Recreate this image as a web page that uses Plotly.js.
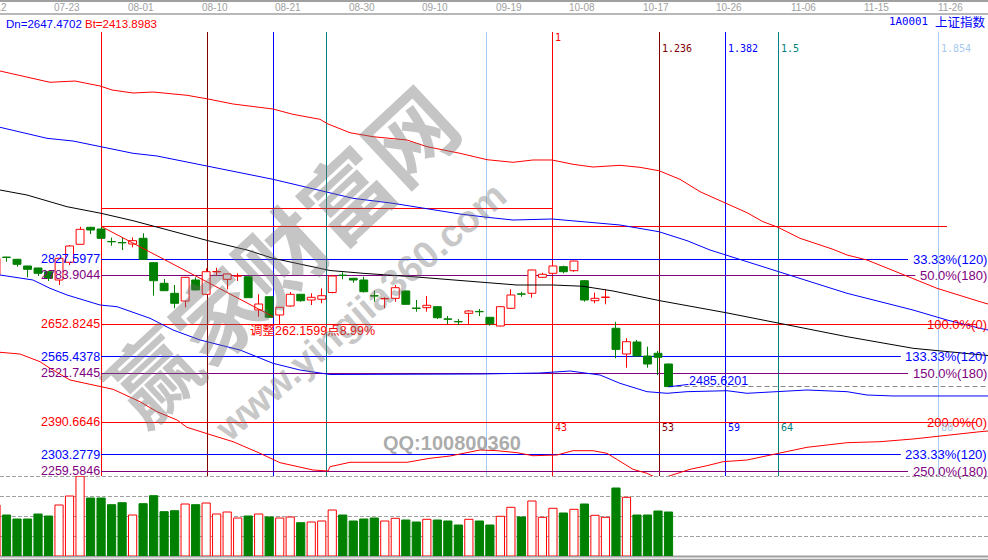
<!DOCTYPE html>
<html><head><meta charset="utf-8">
<script src="https://cdn.plot.ly/plotly-3.0.1.min.js"></script>
<style>html,body{margin:0;padding:0;background:#fff;}#chart{width:988px;height:560px;}</style>
</head><body><div id="chart"></div>
<script>
// ---------------- data ----------------
const startIdx = -1;
const openP  = [2785,2832.5,2826.8,2808.9,2803.5,2793.6,2771.4,2818.8,2866.9,2912.4,2907.9,2874.4,2871.6,2867.7,2883.0,2817.7,2762.6,2735.8,2715.2,2771.4,2733.2,2793.2,2773.3,2781.8,2780.2,2691.2,2726.7,2677.8,2701.9,2733.2,2717.9,2719.8,2738.0,2784.5,2776.0,2771.4,2729.4,2721.0,2722.4,2742.0,2696.3,2697.3,2700.0,2667.2,2660.2,2682.3,2687.2,2671.6,2648.3,2695.7,2734.2,2735.9,2778.6,2789.3,2807.0,2796.3,2769.5,2716.0,2724.8,2642.2,2573.4,2605.5,2568.0,2575.3,2546.7];
const highP  = [2832,2833.5,2827.8,2809.6,2804.2,2795.0,2830.5,2865.0,2914.0,2913.5,2914.98,2884.6,2885.6,2885.6,2896.4,2818.5,2774.0,2758.0,2779.2,2778.6,2802.7,2804.0,2788.0,2789.3,2781.0,2733.2,2727.5,2699.0,2739.3,2734.0,2735.9,2749.2,2785.0,2792.0,2777.0,2780.2,2742.8,2725.1,2758.0,2743.0,2717.9,2728.6,2701.0,2675.0,2667.0,2691.2,2693.8,2672.5,2701.0,2746.5,2740.0,2799.0,2791.0,2810.0,2810.0,2823.0,2771.4,2737.5,2746.5,2659.8,2615.4,2611.0,2593.0,2581.5,2547.5];
const lowP   = [2780,2820.4,2807.0,2778.6,2782.0,2768.7,2758.0,2811.5,2866.0,2894.5,2882.0,2863.2,2851.7,2858.9,2826.0,2729.4,2742.0,2695.7,2698.3,2744.0,2732.0,2782.1,2746.5,2768.7,2724.0,2673.2,2671.0,2652.8245,2700.0,2713.4,2704.5,2709.1,2736.0,2773.3,2764.2,2738.0,2713.4,2695.7,2713.4,2705.0,2686.6,2686.6,2667.0,2653.7,2651.0,2653.0,2675.0,2649.2,2647.47,2694.0,2726.7,2724.0,2778.0,2789.0,2789.3,2793.6,2713.4,2709.1,2706.4,2562.0,2536.7,2567.0,2536.7,2517.2,2485.6201];
const closeP = [2829,2831.8,2813.4,2800.0,2789.3,2775.9,2829.5,2862.4,2907.0,2905.2,2883.0,2873.6,2870.8,2876.6,2826.8,2769.5,2742.8,2709.1,2778.6,2744.7,2793.6,2794.0,2787.5,2782.4,2724.1,2707.2,2671.6,2698.4,2733.2,2716.0,2725.1,2729.4,2782.1,2783.5,2771.4,2740.1,2728.5,2721.6,2750.8,2706.4,2695.5,2703.7,2670.5,2666.4,2659.4,2688.5,2686.4,2654.0,2700.0,2731.3,2733.4,2798.2,2786.7,2808.9,2793.6,2822.2,2717.9,2722.4,2725.6,2585.8,2606.3,2568.0,2546.7,2564.6,2486.2];
const volume = [2550,2050,1850,1850,2100,2000,2550,3000,3990,2900,2900,2565,2665,2050,2615,3015,2215,2265,2600,2565,2650,2100,2200,1900,2000,2100,1950,1900,1950,1665,1700,1750,2300,2050,1750,1850,1900,1750,1885,1800,1700,1835,1800,1750,1550,1835,1750,1550,1985,2435,1950,2750,1935,2385,2150,2335,2600,2035,1935,3400,2935,2050,2050,2250,2200];

const dateLabels = ['07-12','07-23','08-01','08-10','08-21','08-30','09-10','09-19','10-08','10-17','10-26','11-06','11-15','11-26'];
const dateFirstIdx = -1.2, dateStep = 7;

// bands (bar index, price)
const redUpX = [-0.62,4.14,6.52,8.90,10.04,12.04,13.94,17.18,19.18,21.56,25.36,27.26,29.83,30.60,32.69,34.88,38.11,40.02,43.16,45.73,48.20,50.10,51.91,53.91,55.81,58.38,60.29,62.09,64.09,66.00,68.47,70.47,71.99,73.42,75.51,78.65,79.99,81.89,85.03,88.55,92.64,93.41];
const redUpY = [3330.6,3300.4,3303.8,3290.5,3279.8,3271.7,3274.4,3265.6,3255.7,3242.3,3228.9,3214.7,3201.4,3188.8,3165.5,3154.8,3146.0,3128.1,3110.4,3093.3,3086.3,3092.5,3092.5,3081.0,3073.7,3078.3,3072.9,3063.8,3040.8,3007.7,2976.6,2951.5,2927.4,2912.4,2883.0,2853.6,2838.3,2824.9,2789.3,2749.2,2713.4,2707.2];
const blueUpX = [-0.62,3.85,6.33,8.90,12.04,14.32,16.51,19.18,22.22,25.36,27.93,30.60,32.97,36.78,40.02,43.16,45.73,48.20,51.91,54.58,58.38,62.09,64.76,66.95,68.47,73.52,79.99,86.27,89.50,92.64,93.41];
const blueUpY = [3180.0,3150.5,3143.3,3129.1,3110.4,3103.2,3090.6,3076.4,3058.5,3040.8,3023.7,3005.0,2990.0,2976.6,2961.4,2948.0,2939.2,2931.9,2934.6,2927.4,2918.6,2900.6,2876.6,2851.7,2838.3,2792.0,2735.8,2691.1,2664.4,2642.2,2637.6];
const midX = [-0.62,1.95,5.76,8.99,12.04,15.27,19.18,22.89,25.36,30.79,33.93,38.68,45.73,48.58,52.01,54.86,57.72,62.19,68.47,73.52,79.99,86.27,92.64,93.41];
const midY = [3012.2,2998.8,2967.5,2949.9,2930.1,2905.2,2876.6,2851.7,2829.5,2796.8,2789.3,2780.2,2765.3,2758.0,2758.0,2754.6,2742.0,2716.0,2683.9,2655.6,2619.7,2588.7,2570.8,2569.4];
const blueLoX = [-0.62,2.52,4.14,5.76,8.90,10.52,13.66,15.85,18.42,22.22,25.36,27.93,30.79,37.45,45.06,50.77,53.63,56.48,58.38,60.95,62.86,64.76,68.57,70.47,72.95,76.18,79.99,81.89,84.36,93.41];
const blueLoY = [2784.8,2771.4,2749.2,2731.3,2704.5,2700.0,2668.9,2637.6,2610.9,2584.1,2548.5,2530.6,2518.6,2518.6,2519.9,2522.6,2527.9,2517.2,2495.0,2472.6,2468.3,2472.6,2475.2,2468.3,2472.6,2477.1,2472.6,2463.7,2461.1,2461.1];
const redLoX = [-0.62,1.28,3.19,4.14,6.04,8.90,10.14,12.70,14.32,16.23,17.18,19.18,21.56,24.13,26.03,29.17,30.60,30.79,32.69,38.11,40.30,42.21,43.44,45.06,46.68,48.58,50.10,52.39,53.91,55.81,57.15,58.38,59.62,60.95,61.90,62.86,65.05,66.66,68.19,70.47,73.52,76.18,79.99,83.13,86.27,89.50,92.64,93.41];
const redLoY = [2578.0,2573.4,2552.8,2535.2,2503.9,2485.9,2479.0,2445.8,2419.1,2396.8,2377.3,2359.4,2338.8,2307.7,2282.6,2263.1,2260.4,2271.9,2283.7,2283.7,2294.4,2300.5,2307.7,2316.6,2314.7,2309.4,2301.3,2303.2,2314.7,2314.7,2307.7,2285.3,2264.9,2254.2,2241.7,2245.1,2264.9,2274.6,2285.3,2289.8,2307.7,2323.8,2336.1,2338.8,2346.0,2356.7,2365.5,2367.4];

// gold-section levels
const hiIdx = 9, hiPrice = 2914.9844;
const loIdx = 26, loPrice = 2652.8245;
const boxTopPrice = 2963.3;
const trendX = [9, 25.4];
const trendY = [2914.9844, 2673.0];
const levelPrices = [2827.5977,2783.9044,2652.8245,2565.4378,2521.7445,2390.6646,2303.2779,2259.5846];
const levelPct = ['33.33%','50.0%','100.0%','133.33%','150.0%','200.0%','233.33%','250.0%'];
const levelDeg = [120,180,0,120,180,0,120,180];

// fibonacci time lines
const fibStart = 9, fibSpan = 43;
const fibRatios = [0,0.236,0.382,0.5,0.854,1,1.236,1.382,1.5,1.854];
const fibTopLabels = ['','','','','','1','1.236','1.382','1.5','1.854'];
const fibCountLabels = ['','','','','','43','53','59','64','80'];

const lastLowIdx = 63, lastLow = 2485.6201;
const dnText = 'Dn=2647.4702', btText = 'Bt=2413.8983';
const codeText = '1A0001', nameText = '上证指数';

// ---------------- geometry ----------------
const W = 988, H = 560;
const X0 = -0.6186, X1 = 93.405;
const YT = 14, YB = 476, Y0 = 2247.01, Y1 = 3483.10;
const xPx = i => (i - X0) / (X1 - X0) * W;
const pxX = px => X0 + px / W * (X1 - X0);
const yPx = p => YT + (Y1 - p) / (Y1 - Y0) * (YB - YT);
const pxY = py => Y1 - (py - YT) / (YB - YT) * (Y1 - Y0);
const snapX = i => pxX(Math.floor(xPx(i)) + 0.5);
const snapY = p => pxY(Math.floor(yPx(p)) + 0.5);
const pY = py => 1 - py / H;

const RED = '#ff0000', GREEN = '#008000', BLUE = '#0000ff', PURPLE = '#800080',
      DRED = '#800000', TEAL = '#008080', LBLUE = '#a6caf0', GRAY = '#a0a0a0';
const degColor = {120: BLUE, 180: PURPLE, 0: RED};
const fibColors = [RED, DRED, BLUE, TEAL, LBLUE];

const mctx = document.createElement('canvas').getContext('2d');
function tw(t, size, fam){ mctx.font = size + 'px ' + fam; return mctx.measureText(t).width; }

// ---------------- traces ----------------
const idx = openP.map((_, k) => startIdx + k);
const up = idx.map((_, k) => closeP[k] >= openP[k]);
const traces = [];

traces.push({type:'bar', x: idx, y: openP.map((o,k)=>Math.max(Math.abs(closeP[k]-o), 0.9)),
  base: openP.map((o,k)=>Math.min(o, closeP[k])), width: 0.75, xaxis:'x', yaxis:'y',
  marker:{color: up.map(u=>u?'#ffffff':GREEN), line:{color: up.map(u=>u?RED:GREEN), width:1}},
  hoverinfo:'skip'});

[true,false].forEach(dir => {
  const xs = [], ys = [];
  idx.forEach((i,k) => {
    if (up[k] !== dir) return;
    const top = Math.max(openP[k], closeP[k]), bot = Math.min(openP[k], closeP[k]);
    const sx = snapX(i);
    if (highP[k] > top) { xs.push(sx, sx, null); ys.push(highP[k], top, null); }
    if (lowP[k] < bot) { xs.push(sx, sx, null); ys.push(bot, lowP[k], null); }
  });
  traces.push({type:'scatter', mode:'lines', x: xs, y: ys, xaxis:'x', yaxis:'y',
    line:{color: dir?RED:GREEN, width:1}, hoverinfo:'skip', connectgaps:false});
});

traces.push({type:'bar', x: idx, y: volume, width: 0.78, xaxis:'x2', yaxis:'y2',
  marker:{color: up.map(u=>u?'#ffffff':GREEN), line:{color: up.map(u=>u?RED:GREEN), width:1}},
  hoverinfo:'skip'});

const bands = [[redUpX,redUpY,RED],[blueUpX,blueUpY,BLUE],[midX,midY,'#000000'],[blueLoX,blueLoY,BLUE],[redLoX,redLoY,RED]];
bands.forEach(b => traces.push({type:'scatter', mode:'lines', x:b[0], y:b[1], xaxis:'x', yaxis:'y',
  line:{color:b[2], width:1}, hoverinfo:'skip'}));

traces.push({type:'scatter', mode:'lines', x: trendX, y: trendY, xaxis:'x', yaxis:'y',
  line:{color:RED, width:1}, hoverinfo:'skip'});

// ---------------- shapes ----------------
const shapes = [];
const hline = (py, w, color, dash) => ({type:'line', xref:'paper', yref:'paper', x0:0, x1:1, y0:pY(py), y1:pY(py),
  line:{color, width:w, dash: dash||'solid'}, layer:'below'});
shapes.push(hline(1, 2, GRAY), hline(14, 1.5, GRAY), hline(556.5, 2, GRAY), hline(559.5, 1.5, GRAY));
[1000,2000,3000,4000].forEach(v => {
  const py = Math.floor(556 - v / 4000 * 80) + 0.5;
  shapes.push(hline(py, 1, GRAY, '4px,2px'));
});

fibRatios.forEach((r, k) => {
  const x = snapX(fibStart + r * fibSpan);
  shapes.push({type:'line', xref:'x', yref:'paper', x0:x, x1:x, y0:pY(476), y1:pY(32),
    line:{color: fibColors[k % 5], width:1}, layer:'below'});
});

const zeroEnd = pxX(947);
shapes.push({type:'line', xref:'x', yref:'y', x0:fibStart, x1:zeroEnd, y0:snapY(hiPrice), y1:snapY(hiPrice), line:{color:RED,width:1}, layer:'below'});
shapes.push({type:'line', xref:'x', yref:'y', x0:fibStart, x1:fibStart+fibSpan, y0:snapY(boxTopPrice), y1:snapY(boxTopPrice), line:{color:RED,width:1}, layer:'below'});

const annotations = [];
const RF = 'Liberation Sans, Arial, sans-serif';
const MF = 'DejaVu Sans Mono, monospace';

levelPrices.forEach((p, k) => {
  const c = degColor[levelDeg[k]];
  const label = levelPct[k] + '(' + levelDeg[k] + ')';
  const w = tw(label, 13, 'Liberation Sans');
  const endPx = levelDeg[k] === 0 ? 977 : 987.5 - w - 5;
  shapes.push({type:'line', xref:'x', yref:'y', x0:fibStart, x1:pxX(endPx), y0:snapY(p), y1:snapY(p),
    line:{color:c, width:1}, layer:'below'});
  annotations.push({xref:'paper', yref:'y', x:100.5/W, y:p, xanchor:'right', yanchor:'middle', showarrow:false, borderpad:0,
    text: p.toFixed(4), font:{family:RF, size:12.5, color:c}});
  annotations.push({xref:'paper', yref:'y', x:987.5/W, y:p, xanchor:'right', yanchor:'middle', showarrow:false, borderpad:0,
    text: label, font:{family:RF, size:13, color:c}});
});

shapes.push({type:'line', xref:'x', yref:'y', x0:snapX(lastLowIdx), x1:X1, y0:snapY(lastLow), y1:snapY(lastLow),
  line:{color:'#888888', width:1, dash:'5px,3px'}, layer:'below'});

// ---------------- annotations ----------------
dateLabels.forEach((d, k) => {
  const i = dateFirstIdx + dateStep * k;
  annotations.push({xref:'paper', yref:'paper', x: xPx(i)/W, y: pY(8), xanchor:'center', yanchor:'middle',
    showarrow:false, borderpad:0, text:d, font:{family:RF, size:10, color:GRAY}});
});

annotations.push({xref:'paper', yref:'paper', x:5/W, y:pY(24), xanchor:'left', yanchor:'middle', showarrow:false, borderpad:0,
  text: dnText, font:{family:RF, size:11.5, color:BLUE}});
annotations.push({xref:'paper', yref:'paper', x:84/W, y:pY(24), xanchor:'left', yanchor:'middle', showarrow:false, borderpad:0,
  text: btText, font:{family:RF, size:11.5, color:RED}});
annotations.push({xref:'paper', yref:'paper', x:888/W, y:pY(22), xanchor:'left', yanchor:'middle', showarrow:false, borderpad:0,
  text: codeText, font:{family:MF, size:10.8, color:BLUE}});
annotations.push({xref:'paper', yref:'paper', x:987/W, y:pY(22), xanchor:'right', yanchor:'middle', showarrow:false, borderpad:0,
  text: nameText, font:{family:'Noto Sans CJK SC', size:12.5, color:BLUE}});

fibRatios.forEach((r, k) => {
  const x = fibStart + r * fibSpan;
  const c = fibColors[k % 5];
  if (fibTopLabels[k]) annotations.push({xref:'x', yref:'paper', x:x, xshift:1, y:pY(fibTopLabels[k]==='1'?38:48),
    xanchor:'left', yanchor:'middle', showarrow:false, borderpad:0, text:fibTopLabels[k], font:{family:MF, size:10, color:c}});
  if (fibCountLabels[k]) annotations.push({xref:'x', yref:'paper', x:x, xshift:1, y:pY(427),
    xanchor:'left', yanchor:'middle', showarrow:false, borderpad:0, text:fibCountLabels[k], font:{family:MF, size:10, color:c}});
});

const adj = hiPrice - loPrice;
annotations.push({xref:'x', yref:'y', x:loIdx, y:loPrice, xanchor:'left', yanchor:'middle', xshift:-31, yshift:-6,
  showarrow:false, borderpad:0, text:'调整' + adj.toFixed(4) + '点' + (adj/hiPrice*100).toFixed(2) + '%',
  font:{family:'Liberation Sans, Noto Sans CJK SC', size:12.5, color:RED}});

annotations.push({xref:'x', yref:'y', x:lastLowIdx, y:lastLow, ax:50, ay:-6, showarrow:true, arrowhead:0, arrowwidth:1,
  arrowcolor:BLUE, standoff:0, borderpad:0, text: lastLow.toFixed(4), font:{family:RF, size:12.5, color:BLUE}});

// watermarks
annotations.push({xref:'paper', yref:'paper', x:279/W, y:pY(253), xanchor:'center', yanchor:'middle', showarrow:false,
  textangle:-43, text:'赢家财富网', font:{family:'Noto Sans CJK SC', size:88, weight:'bold', color:'rgba(110,110,110,0.40)'}});
annotations.push({xref:'paper', yref:'paper', x:360/W, y:pY(312), xanchor:'center', yanchor:'middle', showarrow:false,
  textangle:-41, text:'www.yingjia360.com', font:{family:RF, size:38, weight:'bold', color:'rgba(110,110,110,0.40)'}});
annotations.push({xref:'paper', yref:'paper', x:452/W, y:pY(443), xanchor:'center', yanchor:'middle', showarrow:false,
  text:'QQ:100800360', font:{family:RF, size:20, weight:'bold', color:'rgba(100,100,100,0.55)'}});

const layout = {
  width:W, height:H, margin:{l:0,r:0,t:0,b:0,pad:0}, autosize:false,
  paper_bgcolor:'#ffffff', plot_bgcolor:'#ffffff', showlegend:false, barmode:'overlay',
  xaxis:{range:[X0,X1], domain:[0,1], anchor:'y', visible:false, fixedrange:true},
  yaxis:{range:[Y0,Y1], domain:[1-YB/H, 1-YT/H], anchor:'x', visible:false, fixedrange:true},
  xaxis2:{range:[X0,X1], domain:[0,1], anchor:'y2', visible:false, fixedrange:true},
  yaxis2:{range:[0,4000], domain:[4/H, 84/H], anchor:'x2', visible:false, fixedrange:true},
  shapes, annotations
};
Plotly.newPlot('chart', traces, layout, {staticPlot:true, displayModeBar:false});
</script>
</body></html>
